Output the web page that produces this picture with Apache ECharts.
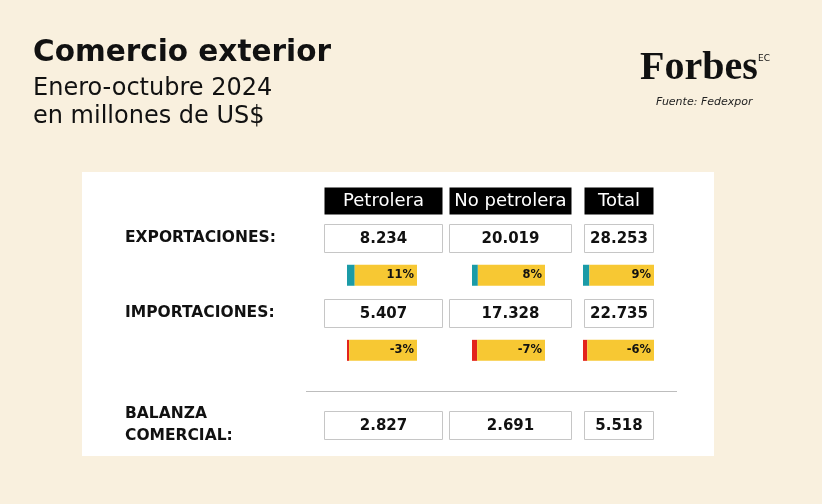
<!DOCTYPE html>
<html>
<head>
<meta charset="utf-8">
<script src="https://cdn.jsdelivr.net/npm/echarts@6/dist/echarts.min.js"></script>
<style>
html,body{margin:0;padding:0;background:#F9F0DE;}
#chart{width:822px;height:504px;}
</style>
</head>
<body>
<div id="chart"></div>
<script>
// ---- data ----
const columns = ['Petrolera', 'No petrolera', 'Total'];
const exportaciones = [8234, 20019, 28253];
const importaciones = [5407, 17328, 22735];
const balanza = [2827, 2691, 5518];
const varExportaciones = [11, 8, 9];
const varImportaciones = [-3, -7, -6];
const rowKeys = ['cab', 'exp', 'expVar', 'imp', 'impVar', 'sep', 'bal'];
const rowLabels = ['', 'EXPORTACIONES:', '', 'IMPORTACIONES:', '', '', 'BALANZA\nCOMERCIAL:'];

// ---- layout / style ----
const FONT = '"DejaVu Sans"';
const rowsTop = 181.4, rowsHeight = 262.8;
const boxCols = [{left: 324, width: 119}, {left: 449, width: 123}, {left: 584, width: 70}];
const barCols = [{left: 347, width: 70}, {left: 472, width: 73}, {left: 583, width: 71}];
const YELLOW = '#F7C833', TEAL = '#1B9BA7', RED = '#E3231B';

function fmt(v) { return (v / 1000).toFixed(3); }

const chart = echarts.init(document.getElementById('chart'));
const grids = [], xAxes = [], yAxes = [], series = [];

boxCols.forEach((c, i) => {
  grids.push({left: c.left, width: c.width, top: rowsTop, height: rowsHeight});
  xAxes.push({type: 'category', gridIndex: i, data: [columns[i]], show: false});
  yAxes.push({
    type: 'category', gridIndex: i, data: rowKeys, inverse: true,
    axisLine: {show: false}, axisTick: {show: false}, splitLine: {show: false},
    axisLabel: i === 0 ? {
      show: true, align: 'left', margin: 199, color: '#111',
      fontFamily: FONT, fontWeight: 'bold', fontSize: 15.5, lineHeight: 22,
      formatter: (v, idx) => rowLabels[idx]
    } : {show: false}
  });
  const cells = [
    {key: 'cab', text: columns[i], head: true},
    {key: 'exp', text: fmt(exportaciones[i])},
    {key: 'imp', text: fmt(importaciones[i])},
    {key: 'bal', text: fmt(balanza[i])}
  ];
  series.push({
    type: 'custom', xAxisIndex: i, yAxisIndex: i,
    data: cells.map(d => [columns[i], d.key]),
    renderItem: (params, api) => {
      const d = cells[params.dataIndex];
      const p = api.coord([api.value(0), api.value(1)]);
      const cs = params.coordSys;
      const h = d.head ? 27 : 28;
      return {
        type: 'group',
        children: [{
          type: 'rect',
          shape: {x: cs.x + 0.5, y: Math.round(p[1] - h / 2) + 0.5, width: cs.width - 1, height: h},
          style: d.head ? {fill: '#000'} : {fill: '#fff', stroke: '#C6C6C6', lineWidth: 1}
        }, {
          type: 'text',
          style: {
            x: cs.x + cs.width / 2, y: p[1] + 1, text: d.text,
            textAlign: 'center', textVerticalAlign: 'middle',
            fill: d.head ? '#fff' : '#111',
            font: (d.head ? 'normal 18px ' : 'bold 15px ') + FONT
          }
        }]
      };
    }
  });
});

barCols.forEach((c, i) => {
  const gi = boxCols.length + i;
  grids.push({left: c.left, width: c.width, top: rowsTop, height: rowsHeight});
  xAxes.push({type: 'value', gridIndex: gi, min: 0, max: 100, show: false});
  yAxes.push({type: 'category', gridIndex: gi, data: rowKeys, inverse: true, show: false});
  const vals = [{key: 'expVar', v: varExportaciones[i]}, {key: 'impVar', v: varImportaciones[i]}];
  series.push({
    type: 'bar', xAxisIndex: gi, yAxisIndex: gi, stack: 'v' + i, barWidth: 21,
    data: vals.map(d => ({value: [Math.abs(d.v), d.key], itemStyle: {color: d.v >= 0 ? TEAL : RED}}))
  });
  series.push({
    type: 'bar', xAxisIndex: gi, yAxisIndex: gi, stack: 'v' + i, barWidth: 21,
    itemStyle: {color: YELLOW},
    label: {
      show: true, position: 'insideRight', distance: 3, color: '#111',
      fontFamily: FONT, fontWeight: 'bold', fontSize: 11.5,
      formatter: p => vals[p.dataIndex].v + '%'
    },
    data: vals.map(d => ({value: [100 - Math.abs(d.v), d.key]}))
  });
});

chart.setOption({
  backgroundColor: '#F9F0DE',
  animation: false,
  grid: grids, xAxis: xAxes, yAxis: yAxes, series: series,
  graphic: [
    {type: 'rect', z: -10, shape: {x: 82, y: 172, width: 632, height: 284}, style: {fill: '#fff'}},
    {type: 'line', z: -5, shape: {x1: 306, y1: 391.5, x2: 677, y2: 391.5}, style: {stroke: '#BDBDBD', lineWidth: 1}},
    {type: 'text', left: 33, top: 38, style: {text: 'Comercio exterior', font: 'bold 29.5px ' + FONT, fill: '#111'}},
    {type: 'text', left: 33, top: 77, style: {text: 'Enero-octubre 2024', font: 'normal 24px ' + FONT, fill: '#111'}},
    {type: 'text', left: 33, top: 105, style: {text: 'en millones de US$', font: 'normal 24px ' + FONT, fill: '#111'}},
    {type: 'text', left: 640, top: 49, style: {text: 'Forbes', font: 'bold 40px "Liberation Serif"', fill: '#111'}},
    {type: 'text', left: 758, top: 54, style: {text: 'EC', font: 'normal 9px ' + FONT, fill: '#111'}},
    {type: 'text', left: 656, top: 97, style: {text: 'Fuente: Fedexpor', font: 'italic 11px ' + FONT, fill: '#222'}}
  ]
});
</script>
</body>
</html>
